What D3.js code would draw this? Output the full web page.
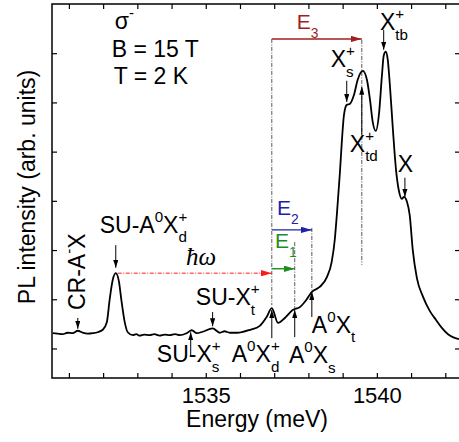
<!DOCTYPE html>
<html>
<head>
<meta charset="utf-8">
<script src="https://cdn.jsdelivr.net/npm/d3@7"></script>
<style>
  body { margin: 0; background: #fff; }
  text { font-family: "Liberation Sans", Arial, sans-serif; fill: #000; }
</style>
</head>
<body>
<div id="chart"></div>
<script>
// PL spectrum (energy in meV, intensity in arb. units)
const energy = [1530.53, 1530.67, 1530.82, 1530.96, 1531.11, 1531.26, 1531.40, 1531.55, 1531.70, 1531.84,
  1531.99, 1532.11, 1532.19, 1532.28, 1532.37, 1532.46, 1532.54, 1532.63, 1532.72, 1532.87,
  1532.97, 1533.07, 1533.20, 1533.36, 1533.50, 1533.65, 1533.80, 1533.95, 1534.10, 1534.24,
  1534.44, 1534.59, 1534.74, 1534.91, 1535.20, 1535.41, 1535.55, 1535.70, 1535.91, 1536.29,
  1536.58, 1536.78, 1536.93, 1537.11, 1537.31, 1537.54,
  1537.75, 1537.92, 1538.10, 1538.33, 1538.54, 1538.68, 1538.77, 1538.83, 1538.92, 1538.98,
  1539.04, 1539.12, 1539.21, 1539.33, 1539.44, 1539.59, 1539.71, 1539.80, 1539.88, 1539.97,
  1540.06, 1540.15, 1540.20, 1540.26, 1540.32, 1540.38, 1540.47, 1540.56, 1540.64, 1540.73,
  1540.79, 1540.88, 1540.96, 1541.05, 1541.17, 1541.35, 1541.55, 1541.73, 1541.90, 1542.08,
  1542.22, 1542.40];
const intensity = [0.31, 0.30, 0.29, 0.32, 0.31, 0.36, 0.32, 0.30, 0.31, 0.33,
  0.38, 0.54, 0.99, 1.39, 1.53, 1.37, 0.95, 0.54, 0.33, 0.27,
  0.29, 0.26, 0.28, 0.27, 0.29, 0.26, 0.28, 0.27, 0.29, 0.27,
  0.31, 0.37, 0.31, 0.34, 0.41, 0.32, 0.35, 0.32, 0.32, 0.38,
  0.46, 0.64, 0.82, 0.52, 0.62, 0.78,
  0.84, 0.97, 1.15, 1.25, 1.45, 1.76, 2.21, 2.71, 3.57, 4.24,
  4.75, 4.95, 4.97, 5.15, 5.46, 5.64, 5.46, 5.05, 4.60, 4.42,
  4.75, 5.56, 5.95, 6.03, 5.86, 5.36, 4.44, 3.63, 3.22, 3.04,
  3.08, 2.98, 2.71, 2.00, 1.43, 1.05, 0.76, 0.58, 0.42, 0.29,
  0.23, 0.19];

const xTicks = d3.range(1531, 1543);
const xTickLabels = [1535, 1540];
const yTicks = d3.range(0, 7);

// line assignments: small arrows (energy, start, tip)
const arrowE    = [1531.26, 1532.37, 1535.20, 1534.56, 1536.93, 1537.60, 1538.10, 1539.12, 1539.56, 1540.20, 1540.82];
const arrowFrom = [0.62, 2.10, 0.74, -0.17, 0.21, 0.23, 0.64, 5.44, 4.34, 6.47, 3.47];
const arrowTo   = [0.40, 1.64, 0.45, 0.33, 0.78, 0.78, 1.15, 5.01, 5.32, 6.07, 3.08];

// labels: text with ^{sup} and _{sub}, anchor energy / intensity (left, baseline)
const labelText = ["SU-A^{0}X_{d}^{+}", "SU-X_{t}^{+}", "SU-X_{s}^{+}", "A^{0}X_{d}^{+}", "A^{0}X_{s}", "A^{0}X_{t}",
  "X_{s}^{+}", "X_{td}^{+}", "X_{tb}^{+}", "X", "B = 15 T", "T = 2 K", "σ^{-}"];
const labelE = [1531.90, 1534.71, 1533.57, 1535.76, 1537.43, 1538.10, 1538.65, 1539.21, 1540.09, 1540.61, 1532.25, 1532.31, 1532.34];
const labelV = [2.35, 0.88, -0.28, -0.28, -0.30, 0.32, 5.72, 4.00, 6.47, 3.59, 5.93, 5.38, 6.49];

// dash-dot guide lines
const guideE      = [1536.93, 1537.60, 1538.10, 1539.56];
const guideTop    = [6.29, 2.16, 2.45, 6.27];
const guideBottom = [0.88, 0.82, 1.19, 1.70];

// transition arrows E3, E2, E1
const transName  = ["E_{3}", "E_{2}", "E_{1}"];
const transStart = 1536.93;
const transEnd   = [1539.56, 1538.10, 1537.60];
const transLevel = [6.29, 2.41, 1.62];
const transLabelE = [1537.66, 1537.08, 1537.02];
const transLabelV = [6.49, 2.71, 2.04];
const transColor = ["#a01f1f", "#1f22a6", "#1f8c1f"];

// photon energy line from SU-A0Xd+ to A0Xd+
const hwFrom = 1532.37, hwTo = 1536.93, hwLevel = 1.53;

const width = 459, height = 442;
const x = d3.scaleLinear().domain([1530.506, 1542.43]).range([52, 460]);
const y = d3.scaleLinear().domain([-0.6, 7]).range([378, 4]);

const svg = d3.select("#chart").append("svg")
  .attr("width", width).attr("height", height);

const defs = svg.append("defs");
const marker = (id, color, w, l) => defs.append("marker")
  .attr("id", id).attr("markerUnits", "userSpaceOnUse")
  .attr("viewBox", `0 ${-w} ${l} ${2 * w}`)
  .attr("refX", l).attr("refY", 0)
  .attr("markerWidth", l).attr("markerHeight", 2 * w)
  .attr("orient", "auto")
  .append("path").attr("d", `M0,${-w}L${l},0L0,${w}Z`).attr("fill", color);
marker("ah", "#000", 2.6, 8);
transColor.forEach((c, i) => marker("t" + i, c, 3.2, 11));
marker("hw", "#ff1a1a", 3.2, 11);

// axes
const axBottom = d3.axisBottom(x).tickValues(xTicks).tickSizeInner(-5).tickSizeOuter(0).tickPadding(9)
  .tickFormat(d => xTickLabels.includes(d) ? d : "");
const axTop = d3.axisTop(x).tickValues(xTicks).tickSizeInner(-5).tickSizeOuter(0).tickFormat("");
const axLeft = d3.axisLeft(y).tickValues(yTicks).tickSizeInner(-5).tickSizeOuter(0).tickFormat("");
const axRight = d3.axisRight(y).tickValues(yTicks).tickSizeInner(-5).tickSizeOuter(0).tickFormat("");

[[axBottom, `translate(0,${y.range()[0]})`], [axTop, `translate(0,${y.range()[1]})`],
 [axLeft, `translate(${x.range()[0]},0)`], [axRight, `translate(${x.range()[1]},0)`]].forEach(([ax, tr]) => {
  const g = svg.append("g").attr("transform", tr).call(ax);
  g.select(".domain").remove();
  g.selectAll(".tick line").attr("stroke", "#000").attr("stroke-width", 1.2);
  g.selectAll(".tick text").style("font-size", "22px").style("font-family", "'Liberation Sans', Arial, sans-serif");
});

svg.append("rect")
  .attr("x", x.range()[0]).attr("y", y.range()[1])
  .attr("width", x.range()[1] - x.range()[0]).attr("height", y.range()[0] - y.range()[1])
  .attr("fill", "none").attr("stroke", "#000").attr("stroke-width", 1.5);

svg.append("text").attr("x", 257).attr("y", 427).attr("text-anchor", "middle")
  .style("font-size", "23px").text("Energy (meV)");
svg.append("text").attr("transform", "translate(35,187) rotate(-90)").attr("text-anchor", "middle")
  .style("font-size", "23px").text("PL intensity (arb. units)");

// label helper: parses ^{..} and _{..}
function drawLabel(g, px, py, str, fs, color) {
  const re = /(\^|_)\{([^}]*)\}|([^\^_]+)/g;
  let m, cx = px, prevX = px, prevKind = "b";
  while ((m = re.exec(str)) !== null) {
    const kind = m[3] !== undefined ? "b" : (m[1] === "^" ? "sup" : "sub");
    const txt = m[3] !== undefined ? m[3] : m[2];
    const stack = kind !== "b" && prevKind !== "b" && kind !== prevKind;
    const size = kind === "b" ? fs : fs * 0.66;
    const dy = kind === "sup" ? -fs * 0.47 : kind === "sub" ? fs * 0.42 : 0;
    const x0 = stack ? prevX : cx;
    const t = g.append("text").attr("x", x0).attr("y", py + dy)
      .style("font-size", size + "px").style("fill", color || "#000").text(txt);
    const w = t.node().getComputedTextLength();
    if (stack) cx = Math.max(cx, x0 + w); else { prevX = x0; cx = x0 + w; }
    prevKind = kind;
  }
}

const ann = svg.append("g");

// guides
guideE.forEach((e, i) => {
  ann.append("line").attr("x1", x(e)).attr("x2", x(e)).attr("y1", y(guideTop[i])).attr("y2", y(guideBottom[i]))
    .attr("stroke", "#444").attr("stroke-width", 0.9).attr("stroke-dasharray", "4,1.5,1,1.5");
});

// spectrum
const line = d3.line().x(d => x(d[0])).y(d => y(d[1])).curve(d3.curveMonotoneX);
svg.append("path").datum(d3.zip(energy, intensity))
  .attr("d", line).attr("fill", "none").attr("stroke", "#000").attr("stroke-width", 1.8);

// hbar omega line
ann.append("line").attr("x1", x(hwFrom) + 2).attr("x2", x(hwTo)).attr("y1", y(hwLevel)).attr("y2", y(hwLevel))
  .attr("stroke", "#ff1a1a").attr("stroke-width", 1).attr("stroke-dasharray", "4,1.5,1,1.5")
  .attr("marker-end", "url(#hw)");
ann.append("text").attr("x", x(1534.42)).attr("y", y(1.70))
  .style("font-family", "'Liberation Serif', 'DejaVu Serif', serif").style("font-style", "italic")
  .style("font-size", "25px").text("ħω");

// transitions
transName.forEach((n, i) => {
  ann.append("line").attr("x1", x(transStart)).attr("x2", x(transEnd[i]))
    .attr("y1", y(transLevel[i])).attr("y2", y(transLevel[i]))
    .attr("stroke", transColor[i]).attr("stroke-width", 1.4).attr("marker-end", `url(#t${i})`);
  drawLabel(ann, x(transLabelE[i]), y(transLabelV[i]), n, 21, transColor[i]);
});

// small arrows
arrowE.forEach((e, i) => {
  ann.append("line").attr("x1", x(e)).attr("x2", x(e)).attr("y1", y(arrowFrom[i])).attr("y2", y(arrowTo[i]))
    .attr("stroke", "#000").attr("stroke-width", 1).attr("marker-end", "url(#ah)");
});

// labels
labelText.forEach((s, i) => drawLabel(ann, x(labelE[i]), y(labelV[i]), s, 23));

// rotated CR label
const cr = ann.append("g").attr("transform", `translate(${x(1531.46)},${y(0.78)}) rotate(-90)`);
drawLabel(cr, 0, 0, "CR-A^{-}X", 23);
</script>
</body>
</html>
